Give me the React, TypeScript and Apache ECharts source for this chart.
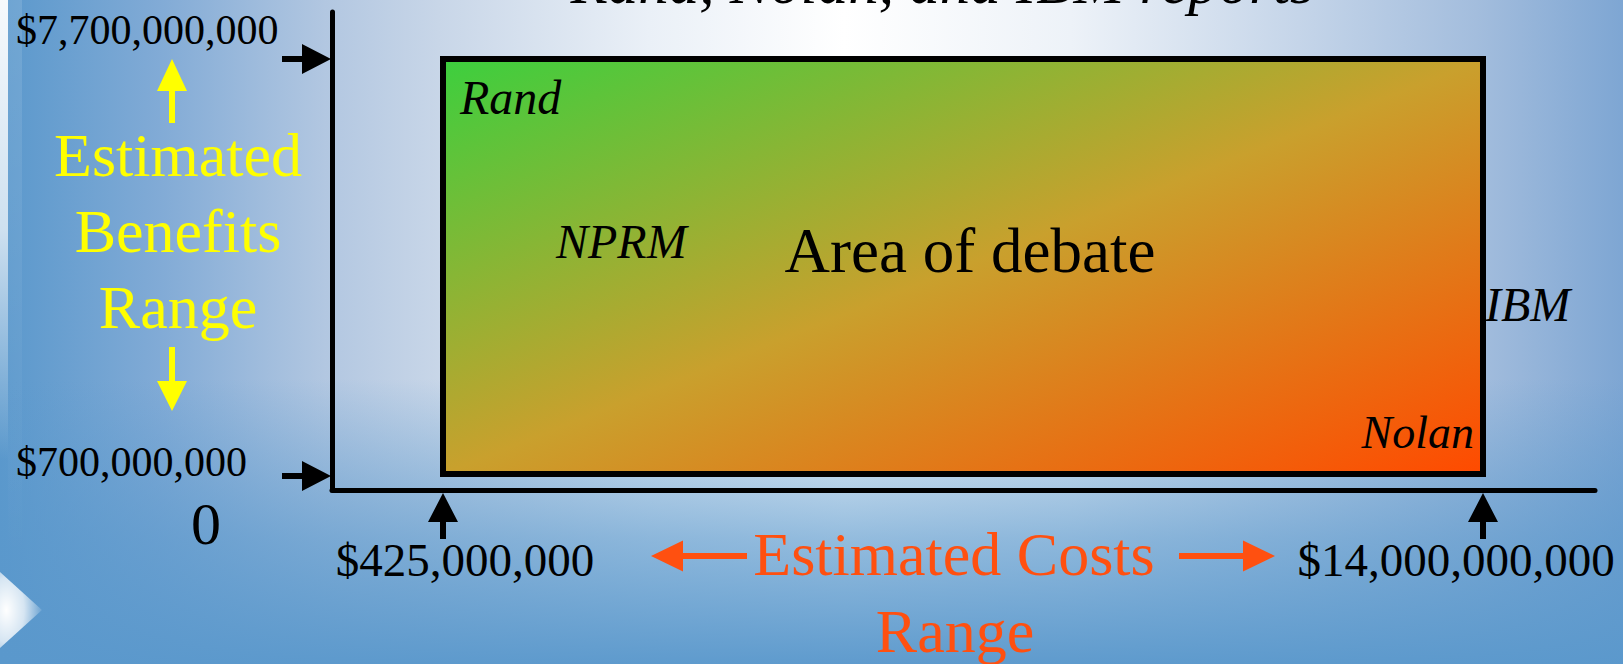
import React, { useEffect, useRef } from "react";
import * as echarts from "echarts";

// ---- data ----
const costRange = [425000000, 14000000000];
const benefitRange = [700000000, 7700000000];
const reportLabels = ["Rand", "NPRM", "IBM", "Nolan"];
const centerLabel = "Area of debate";
const titleText = "Rand, Nolan, and IBM reports";
const originLabel = "0";
const benefitsTitle = ["Estimated", "Benefits", "Range"];
const costsTitle = ["Estimated Costs", "Range"];

// ---- layout ----
const W = 1623;
const H = 664;
const GRID_LEFT = 332;
const GRID_RIGHT = 1595;
const GRID_TOP = 12;
const GRID_BOTTOM = 490;
const COST_PX = [443, 1483];
const BEN_PX = [474, 59];
const SERIF = "'Liberation Serif', 'Times New Roman', serif";
const ORANGE = "#ff5010";
const YELLOW = "#ffff00";

const fmt = (v: number) => "$" + v.toLocaleString("en-US");

function axisExtent(range: number[], px: number[], lowPx: number, highPx: number) {
  const per = (range[1] - range[0]) / (px[1] - px[0]);
  return [range[0] + (lowPx - px[0]) * per, range[1] + (highPx - px[1]) * per];
}

function hArrow(x0: number, x1: number, y: number, head: number, half: number, stem: number) {
  const dir = x1 > x0 ? 1 : -1;
  const hb = x1 - dir * head;
  return [
    [x0, y - stem], [hb, y - stem], [hb, y - half], [x1, y], [hb, y + half], [hb, y + stem], [x0, y + stem],
  ];
}
function vArrow(y0: number, y1: number, x: number, head: number, half: number, stem: number) {
  const dir = y1 > y0 ? 1 : -1;
  const hb = y1 - dir * head;
  return [
    [x - stem, y0], [x - stem, hb], [x - half, hb], [x, y1], [x + half, hb], [x + stem, hb], [x + stem, y0],
  ];
}

function txt(text: string, x: number, y: number, size: number, opts: any = {}) {
  const align = opts.align || "center";
  return {
    type: "text",
    x,
    y,
    z: 100,
    silent: true,
    style: {
      text,
      fill: opts.color || "#000",
      fontSize: size,
      fontFamily: SERIF,
      fontStyle: opts.italic ? "italic" : "normal",
      align,
      textAlign: align,
      verticalAlign: "middle",
      textVerticalAlign: "middle",
    },
  };
}

export default function App() {
  const ref = useRef<HTMLDivElement>(null);
  useEffect(() => {
    document.body.style.margin = "0";
    const el = ref.current!;
    const chart = echarts.init(el, null, { renderer: "svg" });

    const xExt = axisExtent(costRange, COST_PX, GRID_LEFT, GRID_RIGHT);
    const yExt = axisExtent(benefitRange, BEN_PX, GRID_BOTTOM, GRID_TOP);

    const background: any[] = [
      {
        type: "rect",
        z: -100,
        silent: true,
        shape: { x: 0, y: 0, width: W, height: H },
        style: {
          fill: {
            type: "linear", x: 0, y: 0, x2: 1, y2: 0,
            colorStops: [
              { offset: 0, color: "#5a98cc" },
              { offset: 0.1, color: "#82abd6" },
              { offset: 0.2, color: "#b2c7e1" },
              { offset: 0.27, color: "#c8d6e8" },
              { offset: 0.4, color: "#eaf0f7" },
              { offset: 0.52, color: "#ffffff" },
              { offset: 0.66, color: "#edf2f8" },
              { offset: 0.8, color: "#c5d5e9" },
              { offset: 0.91, color: "#a3bddd" },
              { offset: 1, color: "#7ea6d3" },
            ],
          },
        },
      },
      {
        type: "rect",
        z: -99,
        silent: true,
        shape: { x: 0, y: 0, width: W, height: H },
        style: {
          fill: {
            type: "linear", x: 0, y: 0, x2: 0, y2: 1,
            colorStops: [
              { offset: 0, color: "rgba(90,152,204,0)" },
              { offset: 0.57, color: "rgba(90,152,204,0)" },
              { offset: 0.72, color: "rgba(90,152,204,0.42)" },
              { offset: 0.81, color: "rgba(90,152,204,0.65)" },
              { offset: 1, color: "rgba(90,152,204,0.97)" },
            ],
          },
        },
      },
      {
        type: "rect",
        z: -98,
        silent: true,
        shape: { x: 0, y: 0, width: 8, height: 460 },
        style: {
          fill: {
            type: "linear", x: 0, y: 0, x2: 0, y2: 1,
            colorStops: [
              { offset: 0, color: "rgba(255,255,255,0.95)" },
              { offset: 0.5, color: "rgba(255,255,255,0.7)" },
              { offset: 1, color: "rgba(255,255,255,0)" },
            ],
          },
        },
      },
      {
        type: "rect",
        z: -98,
        silent: true,
        shape: { x: 8, y: 0, width: 14, height: 560 },
        style: {
          fill: {
            type: "linear", x: 0, y: 0, x2: 0, y2: 1,
            colorStops: [
              { offset: 0, color: "rgba(255,255,255,0.12)" },
              { offset: 1, color: "rgba(255,255,255,0)" },
            ],
          },
        },
      },
      {
        type: "polygon",
        z: -98,
        silent: true,
        shape: { points: [[0, 572], [42, 610], [0, 648]] },
        style: {
          fill: {
            type: "radial", x: 0.15, y: 0.5, r: 0.85,
            colorStops: [
              { offset: 0, color: "rgba(255,255,255,1)" },
              { offset: 0.5, color: "rgba(255,255,255,0.75)" },
              { offset: 1, color: "rgba(255,255,255,0.1)" },
            ],
          },
        },
      },
    ];

    chart.setOption({
      animation: false,
      grid: {
        left: GRID_LEFT,
        top: GRID_TOP,
        width: GRID_RIGHT - GRID_LEFT,
        height: GRID_BOTTOM - GRID_TOP,
        containLabel: false,
      },
      xAxis: {
        type: "value",
        min: xExt[0],
        max: xExt[1],
        axisLine: { show: true, onZero: false, lineStyle: { color: "#000", width: 5 } },
        axisTick: { show: false },
        axisLabel: { show: false },
        splitLine: { show: false },
      },
      yAxis: {
        type: "value",
        min: yExt[0],
        max: yExt[1],
        axisLine: { show: true, onZero: false, lineStyle: { color: "#000", width: 5 } },
        axisTick: { show: false },
        axisLabel: { show: false },
        splitLine: { show: false },
      },
      series: [
        {
          type: "custom",
          silent: true,
          z: 5,
          data: [[costRange[0], benefitRange[0], costRange[1], benefitRange[1]]],
          renderItem: (params: any, api: any) => {
            const p0 = api.coord([api.value(0), api.value(3)]);
            const p1 = api.coord([api.value(2), api.value(1)]);
            return {
              type: "rect",
              shape: { x: p0[0], y: p0[1], width: p1[0] - p0[0], height: p1[1] - p0[1] },
              style: {
                fill: {
                  type: "linear", x: 0, y: 0, x2: 1, y2: 1,
                  colorStops: [
                    { offset: 0, color: "#3ccf3e" },
                    { offset: 0.5, color: "#c9a02d" },
                    { offset: 1, color: "#ff4a00" },
                  ],
                },
                stroke: "#000",
                lineWidth: 6,
              },
            };
          },
        },
      ],
      graphic: background,
    });

    const pLow = chart.convertToPixel({ gridIndex: 0 }, [costRange[0], benefitRange[0]]) as number[];
    const pHigh = chart.convertToPixel({ gridIndex: 0 }, [costRange[1], benefitRange[1]]) as number[];
    const axisX = GRID_LEFT - 1;
    const axisY = GRID_BOTTOM + 3;

    const marks: any[] = [
      { type: "polygon", z: 100, silent: true, shape: { points: hArrow(282, axisX, pHigh[1], 29, 15, 3) }, style: { fill: "#000" } },
      { type: "polygon", z: 100, silent: true, shape: { points: hArrow(282, axisX, pLow[1] + 2, 29, 15, 3) }, style: { fill: "#000" } },
      { type: "polygon", z: 100, silent: true, shape: { points: vArrow(539, axisY, pLow[0], 29, 15, 3) }, style: { fill: "#000" } },
      { type: "polygon", z: 100, silent: true, shape: { points: vArrow(539, axisY, pHigh[0], 29, 15, 3) }, style: { fill: "#000" } },
      { type: "polygon", z: 100, silent: true, shape: { points: vArrow(123, 59, 172, 32, 15, 3) }, style: { fill: YELLOW } },
      { type: "polygon", z: 100, silent: true, shape: { points: vArrow(347, 411, 172, 30, 15, 3) }, style: { fill: YELLOW } },
      { type: "polygon", z: 100, silent: true, shape: { points: hArrow(747, 651, 556, 32, 15.5, 3) }, style: { fill: ORANGE } },
      { type: "polygon", z: 100, silent: true, shape: { points: hArrow(1179, 1275, 556, 32, 15.5, 3) }, style: { fill: ORANGE } },
      txt(fmt(benefitRange[1]), 16, pHigh[1] - 29, 42, { align: "left" }),
      txt(fmt(benefitRange[0]), 16, pLow[1] - 12, 42, { align: "left" }),
      txt(fmt(costRange[0]), pLow[0] + 22, 560, 47),
      txt(fmt(costRange[1]), pHigh[0] - 27, 560, 47),
      txt(originLabel, 206, 524, 60),
      txt(benefitsTitle[0], 178, 155, 62, { color: YELLOW }),
      txt(benefitsTitle[1], 178, 231, 62, { color: YELLOW }),
      txt(benefitsTitle[2], 178, 307, 62, { color: YELLOW }),
      txt(costsTitle[0], 954, 554, 62, { color: ORANGE }),
      txt(costsTitle[1], 955, 631, 62, { color: ORANGE }),
      txt(reportLabels[0], 460, 97, 48, { italic: true, align: "left" }),
      txt(reportLabels[1], 556, 241, 48, { italic: true, align: "left" }),
      txt(reportLabels[2], 1485, 304, 48, { italic: true, align: "left" }),
      txt(reportLabels[3], 1474, 432, 46, { italic: true, align: "right" }),
      txt(centerLabel, 970, 251, 63),
      txt(titleText, 942, -18, 61, { italic: true }),
    ];

    chart.setOption({ graphic: background.concat(marks) });

    return () => chart.dispose();
  }, []);

  return <div ref={ref} style={{ width: W, height: H }} />;
}
